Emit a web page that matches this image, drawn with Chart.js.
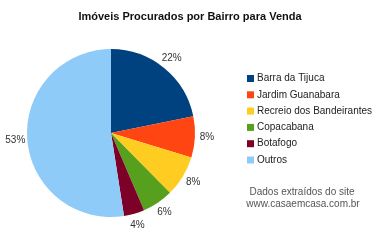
<!DOCTYPE html>
<html>
<head>
<meta charset="utf-8">
<script src="https://cdn.jsdelivr.net/npm/chart.js@4"></script>
<style>
  html, body { margin: 0; padding: 0; background: #fff; }
  #wrap { width: 385px; height: 240px; position: relative; }
</style>
</head>
<body>
<div id="wrap"><canvas id="pie" width="385" height="240"></canvas></div>
<script>
// data
const bairros = ["Barra da Tijuca", "Jardim Guanabara", "Recreio dos Bandeirantes", "Copacabana", "Botafogo", "Outros"];
const percentuais = [22, 8, 8, 6, 4, 53];
const cores = ["#00427f", "#ff4512", "#ffcc22", "#56a01e", "#7d0028", "#8ecbf8"];
const titulo = "Imóveis Procurados por Bairro para Venda";
const nota = ["Dados extraídos do site", "www.casaemcasa.com.br"];

const FONT = "'Liberation Sans', Arial, sans-serif";

// labels outside the slices, title, legend and footnote
const extras = {
  id: "extras",
  afterDraw(chart) {
    const ctx = chart.ctx;
    ctx.save();

    // percent labels
    const meta = chart.getDatasetMeta(0);
    ctx.font = "10px " + FONT;
    ctx.fillStyle = "#333";
    ctx.textAlign = "center";
    ctx.textBaseline = "middle";
    meta.data.forEach((arc, i) => {
      const p = arc.getProps(["x", "y", "startAngle", "endAngle", "outerRadius"], true);
      const mid = (p.startAngle + p.endAngle) / 2;
      const r = p.outerRadius + 12;
      ctx.fillText(percentuais[i] + "%", p.x + Math.cos(mid) * r, p.y + Math.sin(mid) * r);
    });

    // title
    ctx.font = "bold 11px " + FONT;
    ctx.fillStyle = "#111";
    ctx.fillText(titulo, 190, 17);

    // legend
    ctx.textAlign = "left";
    ctx.font = "10px " + FONT;
    bairros.forEach((b, i) => {
      const y = 78 + i * 16.3;
      ctx.fillStyle = cores[i];
      ctx.fillRect(247, y - 3, 7, 7);
      ctx.fillStyle = "#222";
      ctx.fillText(b, 257, y + 0.5);
    });

    // footnote
    ctx.textAlign = "center";
    ctx.fillStyle = "#555";
    ctx.fillText(nota[0], 302, 192);
    ctx.fillText(nota[1], 303, 204);

    ctx.restore();
  }
};

new Chart(document.getElementById("pie"), {
  type: "pie",
  data: {
    labels: bairros,
    datasets: [{
      data: percentuais,
      backgroundColor: cores,
      borderWidth: 0
    }]
  },
  options: {
    responsive: false,
    animation: false,
    layout: { padding: { left: 27, right: 190, top: 49, bottom: 23 } },
    plugins: {
      legend: { display: false },
      tooltip: { enabled: false }
    }
  },
  plugins: [extras]
});
</script>
</body>
</html>
